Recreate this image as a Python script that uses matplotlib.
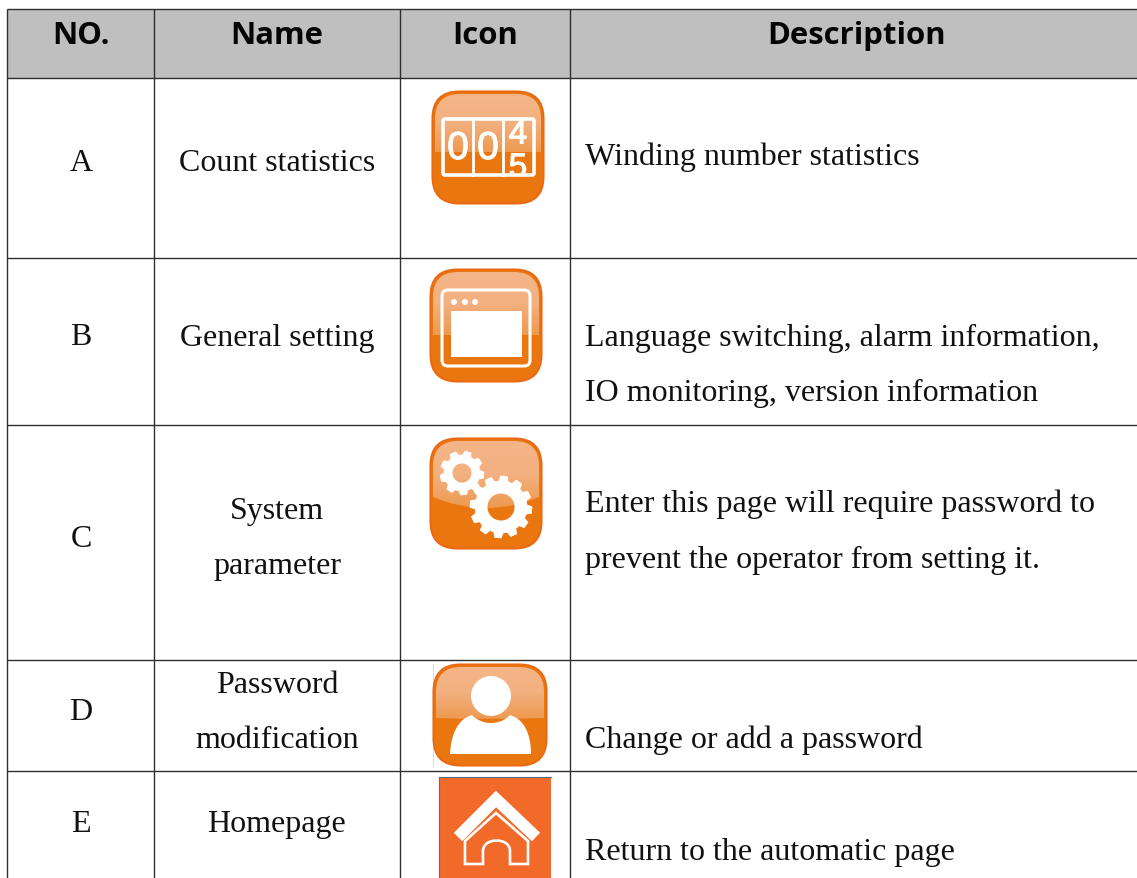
import numpy as np
import matplotlib
matplotlib.use("Agg")
import matplotlib.pyplot as plt
import matplotlib.patheffects as pe
from matplotlib.patches import FancyBboxPatch, Rectangle, Circle, PathPatch
from matplotlib.path import Path
from matplotlib.colors import LinearSegmentedColormap

headers = ["NO.", "Name", "Icon", "Description"]
row_ids = ["A", "B", "C", "D", "E"]
names = [["Count statistics"], ["General setting"], ["System", "parameter"],
         ["Password", "modification"], ["Homepage"]]
descriptions = [["Winding number statistics"],
                ["Language switching, alarm information,", "IO monitoring, version information"],
                ["Enter this page will require password to", "prevent the operator from setting it."],
                ["Change or add a password"],
                ["Return to the automatic page"]]

W, H = 1137, 879
col_edges = [7, 154, 400, 570]
row_edges = [9.5, 78.5, 258.5, 425.5, 660.5, 772.5]
id_y = [160, 334, 536, 709, 821]
name_y = [[160], [335], [508, 563], [682, 737], [821]]
desc_y = [[154], [335, 390], [501, 557], [737], [849]]
header_x = [81, 277, 485, 857]

fig = plt.figure(figsize=(W / 100, H / 100), dpi=100, facecolor="white")
ax = fig.add_axes([0, 0, 1, 1])
ax.set_xlim(0, W)
ax.set_ylim(H, 0)
ax.axis("off")

ax.add_patch(Rectangle((col_edges[0], row_edges[0]), W - col_edges[0], row_edges[1] - row_edges[0],
                       fc="#BFBFBF", ec="none", zorder=1))
LINE = "#2f2f2f"
for y in row_edges:
    ax.plot([col_edges[0], W], [y, y], color=LINE, lw=1.0, zorder=2, solid_capstyle="butt")
for x in col_edges:
    ax.plot([x, x], [row_edges[0], H], color=LINE, lw=1.0, zorder=2, solid_capstyle="butt")

for x, t in zip(header_x, headers):
    ax.text(x, 44, t, ha="center", va="baseline", fontsize=22.4, fontweight="bold",
            family="Open Sans", color="#050505", zorder=3)

body = dict(family="Liberation Serif", fontsize=23, color="#111111", va="baseline", zorder=3)
for rid, y in zip(row_ids, id_y):
    ax.text(81, y + 11, rid, ha="center", **body)
for lines, ys in zip(names, name_y):
    for t, y in zip(lines, ys):
        ax.text(277, y + 11, t, ha="center", **body)
for lines, ys in zip(descriptions, desc_y):
    for t, y in zip(lines, ys):
        ax.text(585, y + 11, t, ha="left", **body)

ORANGE = "#E9760E"
EDGE = "#E96A12"
gloss = LinearSegmentedColormap.from_list("g", ["#F4B688", "#F3B080", "#EE9A50"])


def round_path(x0, y0, x1, y1, r, dip=0.0, bottom=None):
    """Rounded box, or rounded-top gloss shape whose lower edge bows by dip."""
    if bottom is None:
        v = [(x0 + r, y0), (x1 - r, y0), (x1, y0), (x1, y0 + r), (x1, y1 - r), (x1, y1), (x1 - r, y1),
             (x0 + r, y1), (x0, y1), (x0, y1 - r), (x0, y0 + r), (x0, y0), (x0 + r, y0), (x0 + r, y0)]
        c = [Path.MOVETO, Path.LINETO, Path.CURVE3, Path.CURVE3, Path.LINETO, Path.CURVE3, Path.CURVE3,
             Path.LINETO, Path.CURVE3, Path.CURVE3, Path.LINETO, Path.CURVE3, Path.CURVE3, Path.CLOSEPOLY]
        return Path(v, c)
    v = [(x0 + r, y0), (x1 - r, y0), (x1, y0), (x1, y0 + r), (x1, bottom),
         ((x0 + x1) / 2, bottom + 2 * dip), (x0, bottom), (x0, y0 + r), (x0, y0), (x0 + r, y0), (x0 + r, y0)]
    c = [Path.MOVETO, Path.LINETO, Path.CURVE3, Path.CURVE3, Path.LINETO, Path.CURVE3, Path.CURVE3,
         Path.LINETO, Path.CURVE3, Path.CURVE3, Path.CLOSEPOLY]
    return Path(v, c)


def icon_base(x0, y0, x1, y1, gloss_end, dip=0):
    R = 27
    ax.add_patch(PathPatch(round_path(x0 + 0.5, y0 + 0.5, x1 - 0.5, y1 - 0.5, R),
                           fc=ORANGE, ec=EDGE, lw=1.5, zorder=4))
    grad = np.linspace(0, 1, 80)[:, None]
    im = ax.imshow(grad, cmap=gloss, extent=(x0 + 2, x1 - 2, gloss_end + dip, y0 + 2), aspect="auto",
                   origin="upper", zorder=5, interpolation="bilinear")
    clip = PathPatch(round_path(x0 + 3, y0 + 3, x1 - 3, y1 - 3, R - 2, dip=dip, bottom=gloss_end),
                     fc="none", ec="none", transform=ax.transData)
    ax.add_patch(clip)
    im.set_clip_path(clip)
    ax.set_xlim(0, W)
    ax.set_ylim(H, 0)


def gear(cx, cy, r_out, r_in, r_hole, teeth):
    angles = []
    radii = []
    step = 2 * np.pi / teeth
    for i in range(teeth):
        a = i * step + 0.1
        for da, r in [(-0.34, r_in), (-0.2, r_out), (0.2, r_out), (0.34, r_in)]:
            angles.append(a + da * step)
            radii.append(r)
    pts = np.column_stack([cx + np.array(radii) * np.cos(angles), cy + np.array(radii) * np.sin(angles)])
    verts = list(map(tuple, pts)) + [tuple(pts[0])]
    codes = [Path.MOVETO] + [Path.LINETO] * (len(pts) - 1) + [Path.CLOSEPOLY]
    t = np.linspace(0, -2 * np.pi, 40)
    hole = np.column_stack([cx + r_hole * np.cos(t), cy + r_hole * np.sin(t)])
    verts += list(map(tuple, hole)) + [tuple(hole[0])]
    codes += [Path.MOVETO] + [Path.LINETO] * (len(hole) - 1) + [Path.CLOSEPOLY]
    ax.add_patch(PathPatch(Path(verts, codes), fc="white", ec="white", lw=0.6, zorder=7))


# Icon A: counter
icon_base(432, 92, 544, 205, 153)
ax.add_patch(FancyBboxPatch((443, 120), 91, 56, boxstyle="round,pad=0,rounding_size=2",
                            fc="none", ec="white", lw=2.6, zorder=7))
for x in [473, 503]:
    ax.plot([x, x], [120, 176], color="white", lw=2.0, zorder=7)
clip_a = Rectangle((443, 120), 91, 54, transform=ax.transData)
for x, y, d, s in [(458, 150, "0", 28), (488, 150, "0", 28), (518, 136, "4", 24), (518, 169, "5", 24)]:
    t = ax.text(x, y, d, color="white", fontsize=s, family="Liberation Sans", ha="center",
                va="center", zorder=8, clip_on=True,
                path_effects=[pe.withStroke(linewidth=0.8, foreground="white")])
    t.set_clip_path(clip_a)

# Icon B: window
icon_base(430, 270, 542, 383, 336)
ax.add_patch(FancyBboxPatch((442, 291), 88, 76, boxstyle="round,pad=0,rounding_size=6",
                            fc="none", ec="white", lw=2.2, zorder=7))
ax.add_patch(Rectangle((451, 312), 71, 46, fc="white", ec="none", zorder=7))
for x in [454, 465, 475]:
    ax.add_patch(Circle((x, 303), 3, fc="white", ec="none", zorder=7))

# Icon C: gears
icon_base(430, 439, 542, 550, 498, dip=11)
gear(462, 474, 22, 18, 10, 9)
gear(501, 508, 31, 26, 14, 12)

# Icon D: user
icon_base(433, 665, 547, 767, 719, dip=1)
ca = np.deg2rad(np.linspace(135, 45, 30))
arc = [(491 + 27 * np.cos(a), 697 + 27 * np.sin(a)) for a in ca]
body_v = [(450, 755), (451, 735), (458, 720), arc[0]] + arc[1:] + [(524, 720), (531, 735), (531, 755), (450, 755)]
body_c = [Path.MOVETO, Path.CURVE4, Path.CURVE4, Path.CURVE4] + [Path.LINETO] * (len(arc) - 1) + \
         [Path.CURVE4, Path.CURVE4, Path.CURVE4, Path.CLOSEPOLY]
ax.add_patch(PathPatch(Path(body_v, body_c), fc="white", ec="none", zorder=7))
ax.add_patch(Circle((491, 697), 20, fc="white", ec="none", zorder=8))
ax.plot([433, 433], [665, 767], color="#dcdcdc", lw=0.8, zorder=3)

# Icon E: home
ax.add_patch(Rectangle((439, 778), 112, 101, fc="#F26A2A", ec="none", zorder=4))
ax.plot([439, 551], [778, 778], color="#5a6a85", lw=0.8, zorder=5)
ax.plot([439, 439], [778, 879], color="#5a6a85", lw=0.8, zorder=5)
ax.plot([458, 496, 536], [838, 800, 838], color="white", lw=8.5, solid_joinstyle="miter",
        solid_capstyle="butt", zorder=6)
house = Path([(496, 814), (465, 842), (465, 865), (483, 865), (483, 852), (483, 838), (510, 838), (510, 852),
              (510, 865), (528, 865), (528, 842), (496, 814)],
             [Path.MOVETO, Path.LINETO, Path.LINETO, Path.LINETO, Path.LINETO, Path.CURVE4, Path.CURVE4, Path.CURVE4,
              Path.LINETO, Path.LINETO, Path.LINETO, Path.CLOSEPOLY])
ax.add_patch(PathPatch(house, fc="none", ec="white", lw=1.9, zorder=6))

fig.savefig("out.png", dpi=100, facecolor="white")
